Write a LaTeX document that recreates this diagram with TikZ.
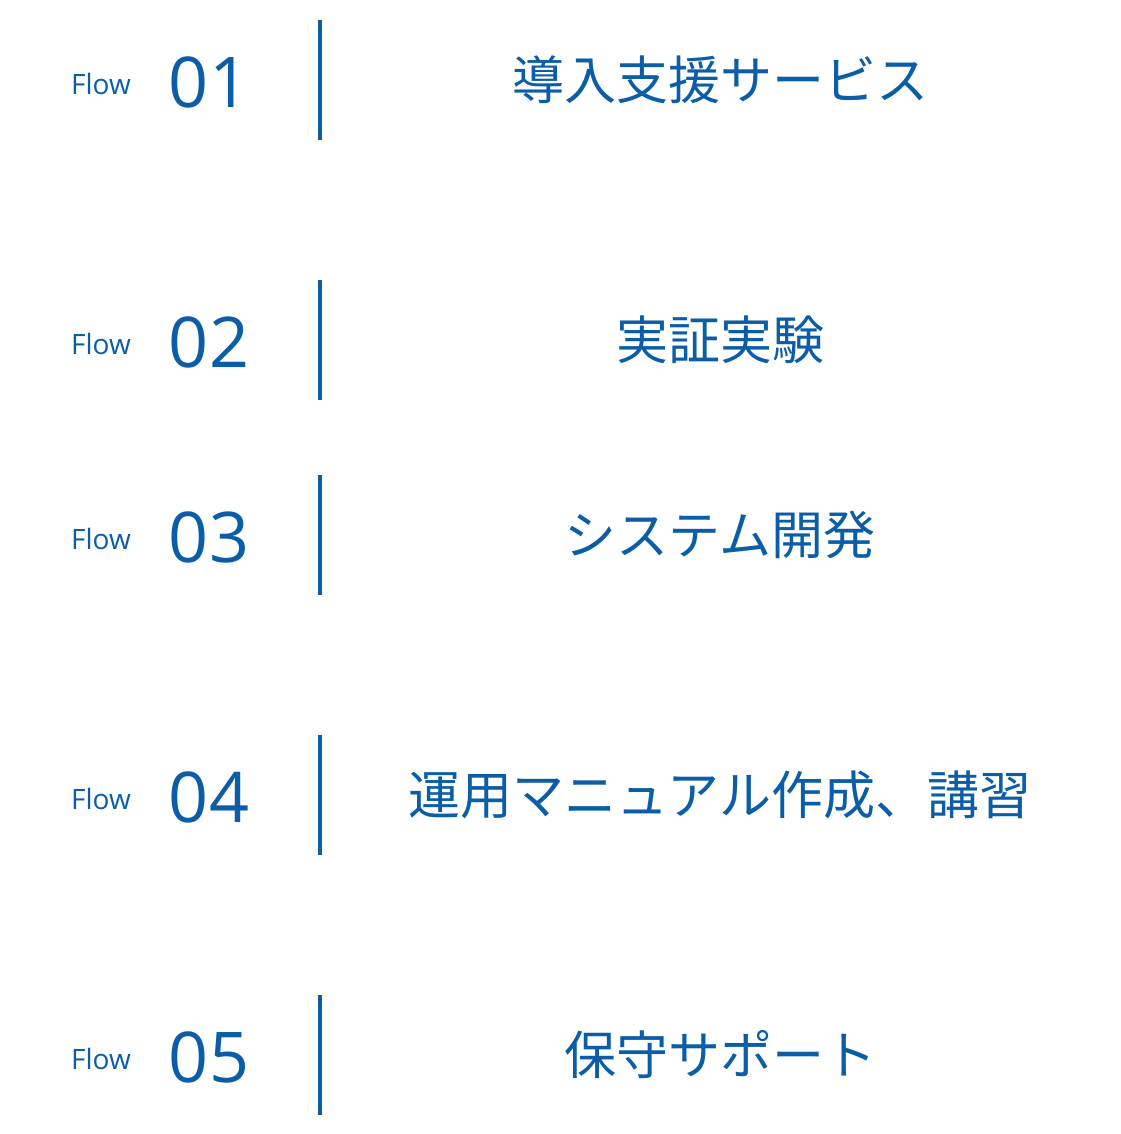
\documentclass[tikz,border=0pt]{standalone}
\usepackage{fontspec}
\setmainfont{Open Sans}
\newfontfamily\cjk{Noto Sans CJK JP}
\definecolor{fb}{HTML}{0A5DA6}
\begin{document}
\begin{tikzpicture}[x=1pt,y=-1pt,
  flowlbl/.style={text=fb,font=\fontsize{28}{30}\selectfont,anchor=center},
  numlbl/.style={text=fb,font=\fontsize{70}{72}\selectfont,anchor=center},
  titlelbl/.style={text=fb,font=\cjk\fontsize{52}{56}\selectfont,anchor=center},
  bar/.style={draw=fb,line width=3.5pt},
  chev/.style={draw=white,line width=2pt}]
\useasboundingbox (0,0) rectangle (1120,1134);
\foreach \i/\y/\t in {1/80/導入支援サービス,2/340/実証実験,3/535/システム開発,4/795/運用マニュアル作成、講習,5/1055/保守サポート}{
  \node[flowlbl] (f\i) at (101,\y+4) {Flow};
  \node[numlbl] (n\i) at (209,\y+2) {0\i};
  \draw[bar] (320,\y-60) -- (320,\y+60);
  \node[titlelbl] (t\i) at (720,\y) {\t};
}
\foreach \y in {192,645,905}{
  \draw[chev] (522,\y) -- (545,\y+23);
  \draw[chev] (598,\y) -- (575,\y+23);
}
\end{tikzpicture}
\end{document}
